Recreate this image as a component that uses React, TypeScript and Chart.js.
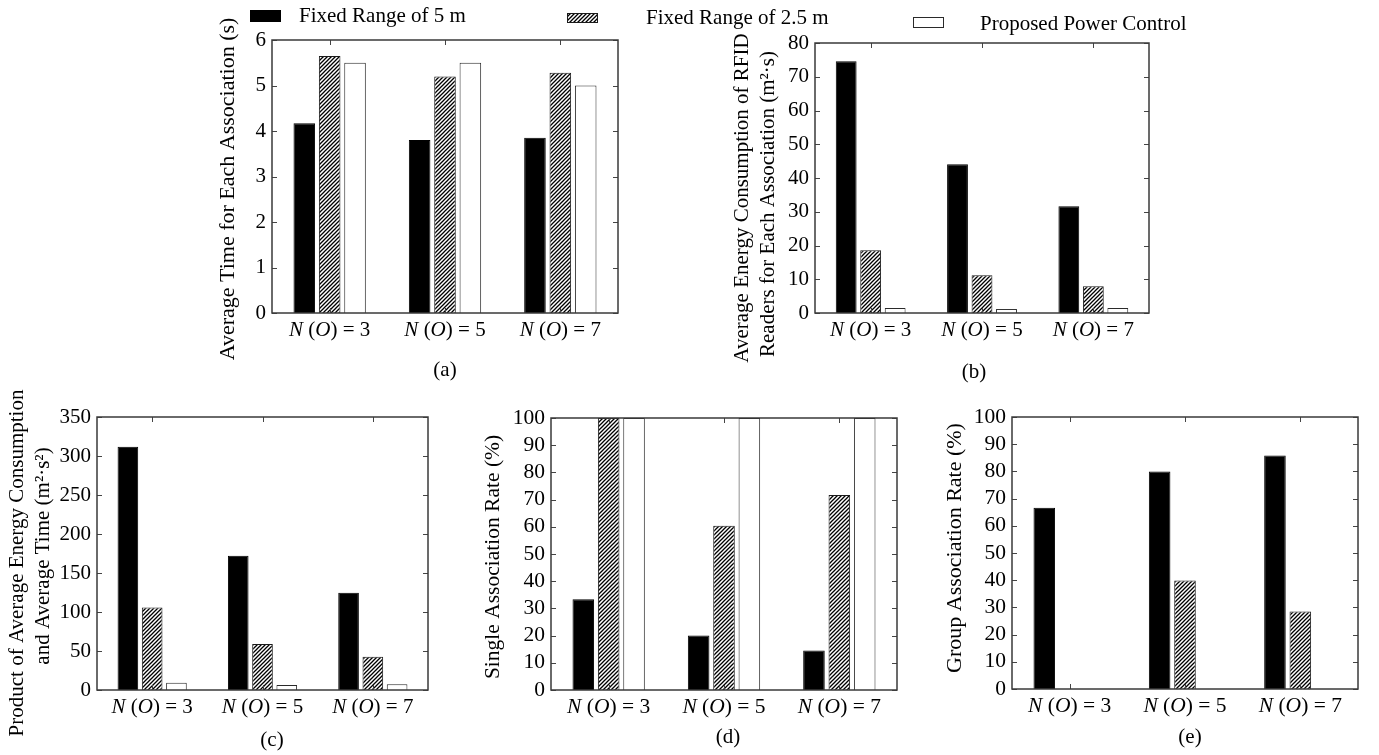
import React, { useEffect, useRef } from "react";
import { Chart, registerables } from "chart.js";

Chart.register(...registerables);

const FONT = "'Liberation Serif', 'Times New Roman', serif";

// Number of objects N(O) for each group of bars
const categories = ["3", "5", "7"];
const seriesLabels = ["Fixed Range of 5 m", "Fixed Range of 2.5 m", "Proposed Power Control"];

// (a) average time for each association (s)
const timeFixed5 = [4.17, 3.8, 3.85];
const timeFixed25 = [5.65, 5.2, 5.28];
const timeProposed = [5.5, 5.5, 5.0];

// (b) average energy consumption of RFID readers (m²·s)
const energyFixed5 = [74.6, 44.1, 31.6];
const energyFixed25 = [18.6, 11.2, 7.9];
const energyProposed = [1.5, 1.2, 1.5];

// (c) product of energy consumption and time (m²·s²)
const productFixed5 = [311.7, 172, 124.7];
const productFixed25 = [105.9, 58.9, 42.7];
const productProposed = [9.4, 6.4, 7.3];

// (d) single association rate (%)
const singleFixed5 = [33.4, 20, 14.5];
const singleFixed25 = [100, 60.4, 71.7];
const singleProposed = [100, 100, 100];

// (e) group association rate (%)
const groupFixed5 = [66.6, 80, 85.8];
const groupFixed25 = [0, 39.9, 28.5];
const groupProposed = [0, 0, 0];

// y axis ranges: [max, step]
const timeAxis = [6, 1];
const energyAxis = [80, 10];
const productAxis = [350, 50];
const rateAxis = [100, 10];

type Area = { L: number; T: number; R: number; B: number };
type PanelSpec = {
  area: Area;
  canvasRight?: number;
  series: number[][];
  axis: number[];
  titleLines: { text: string; dx: number; cy: number }[];
  titleFont: number;
  caption: string;
  captionX: number;
  captionY: number;
  tickFont: number;
  legend?: boolean;
};

const panels: PanelSpec[] = [
  {
    area: { L: 272, T: 40, R: 618, B: 313 },
    canvasRight: 1379,
    series: [timeFixed5, timeFixed25, timeProposed],
    axis: timeAxis,
    titleLines: [{ text: "Average Time for Each Association (s)", dx: -44, cy: 189 }],
    titleFont: 22,
    caption: "(a)",
    captionX: 445,
    captionY: 370,
    tickFont: 21,
    legend: true,
  },
  {
    area: { L: 815, T: 43, R: 1149, B: 313 },
    series: [energyFixed5, energyFixed25, energyProposed],
    axis: energyAxis,
    titleLines: [
      { text: "Average Energy Consumption of RFID", dx: -73, cy: 198 },
      { text: "Readers for Each Association (m²·s)", dx: -47, cy: 204 },
    ],
    titleFont: 21,
    caption: "(b)",
    captionX: 974,
    captionY: 372,
    tickFont: 21,
  },
  {
    area: { L: 97, T: 417, R: 428, B: 690 },
    series: [productFixed5, productFixed25, productProposed],
    axis: productAxis,
    titleLines: [
      { text: "Product of Average Energy Consumption", dx: -80, cy: 563 },
      { text: "and Average Time (m²·s²)", dx: -54, cy: 556 },
    ],
    titleFont: 21,
    caption: "(c)",
    captionX: 272,
    captionY: 740,
    tickFont: 21,
  },
  {
    area: { L: 551, T: 418, R: 897, B: 690 },
    series: [singleFixed5, singleFixed25, singleProposed],
    axis: rateAxis,
    titleLines: [{ text: "Single Association Rate (%)", dx: -58, cy: 557 }],
    titleFont: 21.5,
    caption: "(d)",
    captionX: 728,
    captionY: 737,
    tickFont: 21.5,
  },
  {
    area: { L: 1012, T: 417, R: 1358, B: 689 },
    canvasRight: 1375,
    series: [groupFixed5, groupFixed25, groupProposed],
    axis: rateAxis,
    titleLines: [{ text: "Group Association Rate (%)", dx: -57, cy: 548 }],
    titleFont: 22,
    caption: "(e)",
    captionX: 1190,
    captionY: 737,
    tickFont: 21.5,
  },
];

const Y_AXIS_W = 60;
const X_AXIS_H = 30;

function makeHatch(): CanvasPattern {
  const s = 4;
  const c = document.createElement("canvas");
  c.width = s;
  c.height = s;
  const g = c.getContext("2d")!;
  g.fillStyle = "#fff";
  g.fillRect(0, 0, s, s);
  g.strokeStyle = "#000";
  g.lineWidth = 1.3;
  g.beginPath();
  g.moveTo(0, s);
  g.lineTo(s, 0);
  g.moveTo(-1, 1);
  g.lineTo(1, -1);
  g.moveTo(s - 1, s + 1);
  g.lineTo(s + 1, s - 1);
  g.stroke();
  return g.createPattern(c, "repeat")!;
}

function drawXLabel(ctx: CanvasRenderingContext2D, cat: string, cx: number, cy: number, size: number) {
  const parts: [string, boolean][] = [
    ["N", true],
    [" (", false],
    ["O", true],
    [") = " + cat, false],
  ];
  const fontOf = (it: boolean) => `${it ? "italic " : ""}${size}px ${FONT}`;
  let total = 0;
  for (const [t, it] of parts) {
    ctx.font = fontOf(it);
    total += ctx.measureText(t).width;
  }
  let x = cx - total / 2;
  ctx.textAlign = "left";
  ctx.textBaseline = "middle";
  for (const [t, it] of parts) {
    ctx.font = fontOf(it);
    ctx.fillText(t, x, cy);
    x += ctx.measureText(t).width;
  }
}

function Panel({ spec }: { spec: PanelSpec }) {
  const ref = useRef<HTMLCanvasElement | null>(null);
  const { area } = spec;
  const cx = area.L - 100;
  const cy = area.T - 40;
  const cw = (spec.canvasRight ?? area.R + 30) - cx;
  const ch = 40 + (area.B - area.T) + 80;

  useEffect(() => {
    if (!ref.current) return;
    const hatch = makeHatch();
    const fills = ["#000000", hatch, "#ffffff"];
    const borders = ["#000000", "#1a1a1a", "#2a2a2a"];

    const decor = {
      id: "panelDecor",
      afterDatasetsDraw(chart: any) {
        const { ctx, chartArea: a, scales } = chart;
        const xs = scales.x;
        const ys = scales.y;
        ctx.save();
        ctx.strokeStyle = "#444";
        ctx.lineWidth = 1;
        ctx.beginPath();
        const tl = 5;
        ys.ticks.forEach((t: any) => {
          const py = Math.round(ys.getPixelForValue(t.value)) + 0.5;
          ctx.moveTo(a.left, py);
          ctx.lineTo(a.left + tl, py);
          ctx.moveTo(a.right, py);
          ctx.lineTo(a.right - tl, py);
        });
        categories.forEach((_, i) => {
          const px = Math.round(xs.getPixelForValue(i)) + 0.5;
          ctx.moveTo(px, a.top);
          ctx.lineTo(px, a.top + tl);
          ctx.moveTo(px, a.bottom);
          ctx.lineTo(px, a.bottom - tl);
        });
        ctx.stroke();
        ctx.lineWidth = 1.5;
        ctx.strokeStyle = "#3a3a3a";
        ctx.strokeRect(a.left, a.top, a.right - a.left, a.bottom - a.top);
        ctx.restore();
      },
      afterDraw(chart: any) {
        const { ctx, chartArea: a, scales } = chart;
        const xs = scales.x;
        ctx.save();
        ctx.fillStyle = "#000";
        categories.forEach((cat, i) => {
          drawXLabel(ctx, cat, xs.getPixelForValue(i), a.bottom + 17, spec.tickFont);
        });

        ctx.font = `${spec.titleFont}px ${FONT}`;
        ctx.textAlign = "center";
        ctx.textBaseline = "middle";
        spec.titleLines.forEach((ln) => {
          ctx.save();
          ctx.translate(a.left + ln.dx, ln.cy - cy);
          ctx.rotate(-Math.PI / 2);
          ctx.fillText(ln.text, 0, 0);
          ctx.restore();
        });

        ctx.font = `21px ${FONT}`;
        ctx.textAlign = "center";
        ctx.textBaseline = "middle";
        ctx.fillText(spec.caption, spec.captionX - cx, spec.captionY - cy);

        if (spec.legend) {
          const items = [
            { x: 250, y: 10, w: 31, h: 12, tx: 299, ty: 16 },
            { x: 567, y: 13, w: 31, h: 10, tx: 646, ty: 18 },
            { x: 913, y: 17, w: 31, h: 11, tx: 980, ty: 24 },
          ];
          chart.data.datasets.forEach((ds: any, i: number) => {
            const it = items[i];
            ctx.fillStyle = ds.backgroundColor;
            ctx.fillRect(it.x - cx, it.y - cy, it.w, it.h);
            ctx.strokeStyle = ds.borderColor;
            ctx.lineWidth = 1;
            ctx.strokeRect(it.x - cx + 0.5, it.y - cy + 0.5, it.w - 1, it.h - 1);
            ctx.fillStyle = "#000";
            ctx.font = `21px ${FONT}`;
            ctx.textAlign = "left";
            ctx.textBaseline = "middle";
            ctx.fillText(ds.label, it.tx - cx, it.ty - cy);
          });
        }
        ctx.restore();
      },
    };

    const chart = new Chart(ref.current, {
      type: "bar",
      data: {
        labels: categories,
        datasets: spec.series.map((vals, i) => ({
          label: seriesLabels[i],
          data: vals,
          backgroundColor: fills[i] as any,
          borderColor: borders[i],
          borderWidth: 1,
          borderSkipped: "start" as const,
          categoryPercentage: 0.66,
          barPercentage: 0.85,
        })),
      },
      options: {
        responsive: false,
        animation: false,
        events: [],
        layout: {
          padding: {
            left: area.L - cx - Y_AXIS_W,
            top: area.T - cy,
            right: cx + cw - area.R,
            bottom: ch - (area.B - cy) - X_AXIS_H,
          },
        },
        plugins: { legend: { display: false }, tooltip: { enabled: false } },
        scales: {
          x: {
            type: "category",
            grid: { display: false, drawTicks: false },
            border: { display: false },
            ticks: { display: false },
            afterFit: (s: any) => {
              s.height = X_AXIS_H;
            },
          },
          y: {
            min: 0,
            max: spec.axis[0],
            grid: { display: false, drawTicks: false },
            border: { display: false },
            ticks: {
              stepSize: spec.axis[1],
              autoSkip: false,
              padding: 6,
              color: "#000",
              font: { family: FONT, size: spec.tickFont },
            },
            afterFit: (s: any) => {
              s.width = Y_AXIS_W;
            },
          },
        },
      },
      plugins: [decor],
    });
    return () => chart.destroy();
  }, []);

  return (
    <canvas
      ref={ref}
      width={cw}
      height={ch}
      style={{ position: "absolute", left: cx, top: cy, width: cw, height: ch }}
    />
  );
}

export default function App() {
  return (
    <div
      style={{
        position: "absolute",
        left: 0,
        top: 0,
        width: 1379,
        height: 755,
        overflow: "hidden",
        background: "#fff",
      }}
    >
      {panels.map((p, i) => (
        <Panel key={i} spec={p} />
      ))}
    </div>
  );
}
